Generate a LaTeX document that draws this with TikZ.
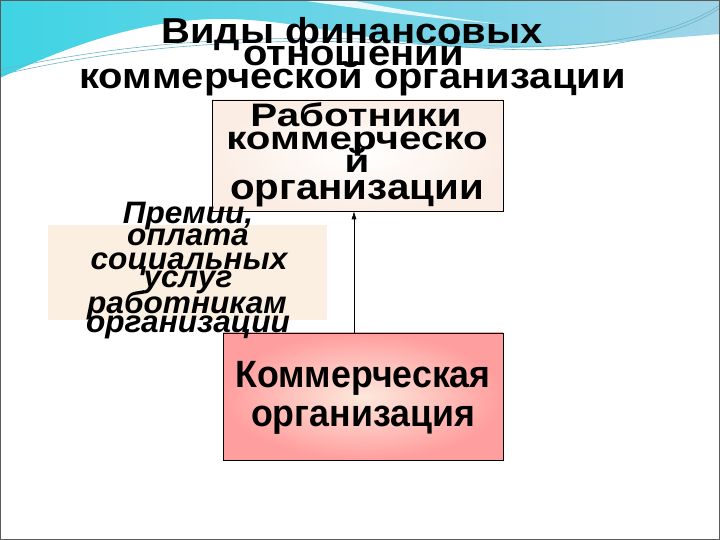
\documentclass[tikz,border=0pt]{standalone}
\usepackage{fontspec}
\setmainfont{Liberation Sans}
\usetikzlibrary{arrows.meta}
\definecolor{bandL}{HTML}{3ED4E4}
\definecolor{bandM}{HTML}{8FCBE0}
\definecolor{bandR}{HTML}{9ED4E8}
\definecolor{swline}{HTML}{6AB3C8}
\definecolor{peach}{HTML}{FBEFE2}
\definecolor{boxedge}{HTML}{FBEDE4}
\definecolor{pinkin}{HTML}{FDE9DC}
\definecolor{pinkout}{HTML}{FF9E9E}
\definecolor{frame}{HTML}{5A5A5A}
\begin{document}
\begin{tikzpicture}[x=1pt,y=1pt,
  lbl/.style={inner sep=0pt, anchor=base, text=black},
  ttl/.style={lbl, font=\fontsize{36}{36}\selectfont\bfseries, xscale=1.11, transform shape},
  bx1/.style={lbl, font=\fontsize{32.5}{32.5}\selectfont\bfseries, xscale=1.24, transform shape},
  bx1big/.style={lbl, font=\fontsize{36}{36}\selectfont\bfseries, xscale=1.12, transform shape},
  bx2/.style={lbl, font=\fontsize{31}{31}\selectfont\bfseries\itshape, xscale=1.02, transform shape},
  bx3/.style={lbl, font=\fontsize{38}{38}\selectfont\bfseries, xscale=0.94, transform shape},
  box/.style={draw=black, line width=0.6pt, inner sep=0pt}
]
\useasboundingbox (0,0) rectangle (720,540);
\fill[white] (0,0) rectangle (720,540);
% top decoration
\shade[left color=bandL, middle color=bandM, right color=bandR]
  (0,540) -- (720,540) -- (720,506)
  .. controls (640,500) and (540,490) .. (470,492)
  .. controls (380,496) and (320,515) .. (250,520)
  .. controls (150,528) and (60,490) .. (0,462) -- cycle;
\fill[white, opacity=0.85] (300,540) -- (350,540)
  .. controls (400,530) and (450,522) .. (500,516)
  .. controls (440,521) and (380,528) .. (300,540) -- cycle;
\draw[swline, line width=0.6pt] (0,465) .. controls (150,500) and (300,505) .. (480,492)
  .. controls (600,484) and (680,505) .. (720,532);
\draw[swline, line width=0.6pt] (0,470) .. controls (150,503) and (300,508) .. (480,495)
  .. controls (600,488) and (680,508) .. (720,535);
\draw[frame, line width=1.2pt] (0.6,0.6) rectangle (719.4,539.4);
% title
\node[ttl] (t1) at (352,496.5) {Виды финансовых};
\node[ttl] (t2) at (353.5,474.5) {отношений};
\node[ttl] (t3) at (352.5,451) {коммерческой организации};
% box 1
\node[box, inner color=white, outer color=boxedge, minimum width=291, minimum height=111] (b1) at (357.5,384.5) {};
\node[bx1] (b1a) at (356,413) {Работники};
\node[bx1] (b1b) at (357,390) {коммерческо};
\node[bx1] (b1c) at (357,367) {й};
\node[bx1big] (b1d) at (357,340) {организации};
% box 3
\node[box, inner color=pinkin, outer color=pinkout, minimum width=280, minimum height=127] (b3) at (363,143.5) {};
\node[bx3] (b3a) at (363,152) {Коммерческая};
\node[bx3] (b3b) at (363,113) {организация};
% arrow
\draw[-{Latex[length=8pt,width=5pt]}, line width=0.6pt] ([xshift=-9pt]b3.north) -- ([xshift=-3.5pt]b1.south);
% box 2
\node[fill=peach, inner sep=0pt, minimum width=279, minimum height=95] (b2) at (187.5,267.5) {};
\node[bx2] (b2a) at (188,316) {Премии,};
\node[bx2] (b2b) at (188,294) {оплата};
\node[bx2] (b2c) at (189,270) {социальных};
\node[bx2] (b2d) at (188,252) {услуг};
\node[bx2] (b2e) at (187,226) {работникам};
\node[bx2] (b2f) at (188,207) {организации};
\end{tikzpicture}
\end{document}
